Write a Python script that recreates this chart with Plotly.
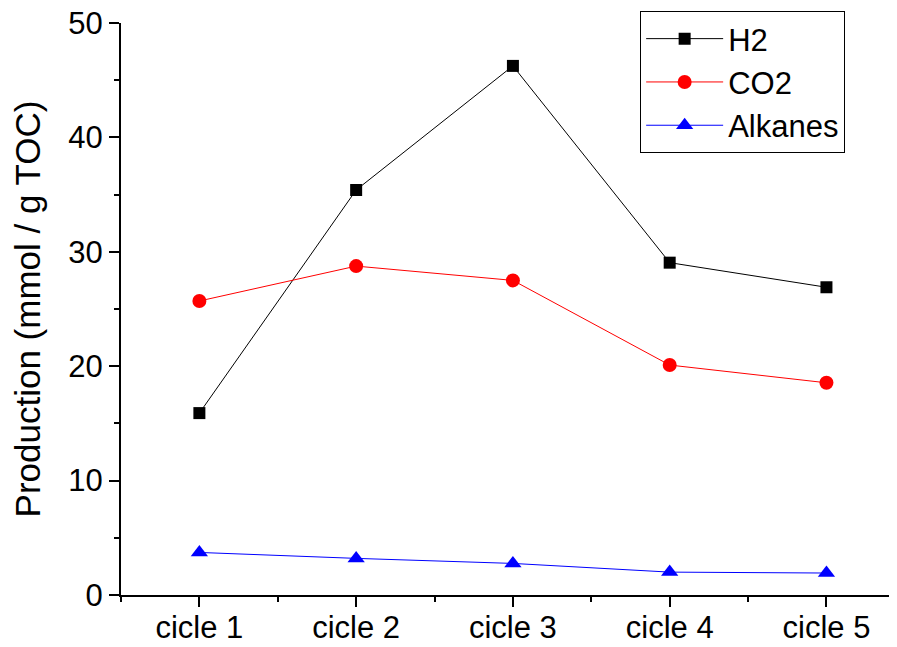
import plotly.graph_objects as go

categories = ["cicle 1", "cicle 2", "cicle 3", "cicle 4", "cicle 5"]
h2 = [15.9, 35.4, 46.25, 29.05, 26.9]
co2 = [25.7, 28.75, 27.5, 20.1, 18.55]
alkanes = [3.72, 3.2, 2.76, 2.0, 1.92]

xpos = list(range(len(categories)))
FONT = "Arial, Liberation Sans, sans-serif"

fig = go.Figure()
fig.add_trace(go.Scatter(x=xpos, y=h2, name="H2", mode="lines+markers",
                         line=dict(color="black", width=1),
                         marker=dict(symbol="square", size=12, color="black")))
fig.add_trace(go.Scatter(x=xpos, y=co2, name="CO2", mode="lines+markers",
                         line=dict(color="red", width=1),
                         marker=dict(symbol="circle", size=14, color="red")))
fig.add_trace(go.Scatter(x=xpos, y=alkanes, name="Alkanes", mode="lines+markers",
                         line=dict(color="blue", width=1),
                         marker=dict(symbol="triangle-up", size=15, color="blue")))

# page body has an 8px default margin, so the figure is sized 8px smaller
fig.update_layout(
    width=889, height=639,
    margin=dict(l=113, r=0, t=15, b=52, autoexpand=False),
    paper_bgcolor="white", plot_bgcolor="white",
    font=dict(family=FONT, size=31, color="black"),
    showlegend=True,
    legend=dict(x=0.669, y=1.021, xanchor="left", yanchor="top",
                bordercolor="black", borderwidth=1, bgcolor="white",
                font=dict(size=31), itemwidth=77, tracegroupgap=0),
    xaxis=dict(range=[-0.5, 4.45], tickmode="array", tickvals=xpos, ticktext=categories,
               automargin=False, ticklabeloverflow="allow",
               showline=True, linecolor="black", linewidth=2, showgrid=False, zeroline=False,
               ticks="outside", ticklen=10, tickwidth=2, tickcolor="black",
               ticklabelstandoff=-6,
               minor=dict(tickmode="array", tickvals=[-0.5, 0.5, 1.5, 2.5, 3.5],
                          ticks="outside", ticklen=5, tickwidth=2, tickcolor="black", showgrid=False),
               tickfont=dict(size=31)),
    yaxis=dict(range=[0, 50], dtick=10, tick0=0, automargin=False, ticklabeloverflow="allow",
               showline=True, linecolor="black", linewidth=2, showgrid=False, zeroline=False,
               ticks="outside", ticklen=10, tickwidth=2, tickcolor="black",
               minor=dict(dtick=5, ticks="outside", ticklen=5, tickwidth=2, tickcolor="black", showgrid=False),
               tickfont=dict(size=31),
               title=dict(text="Production (mmol / g TOC)\u00a0\u00a0", font=dict(size=35), standoff=20)),
)

fig.write_html("out.html")
